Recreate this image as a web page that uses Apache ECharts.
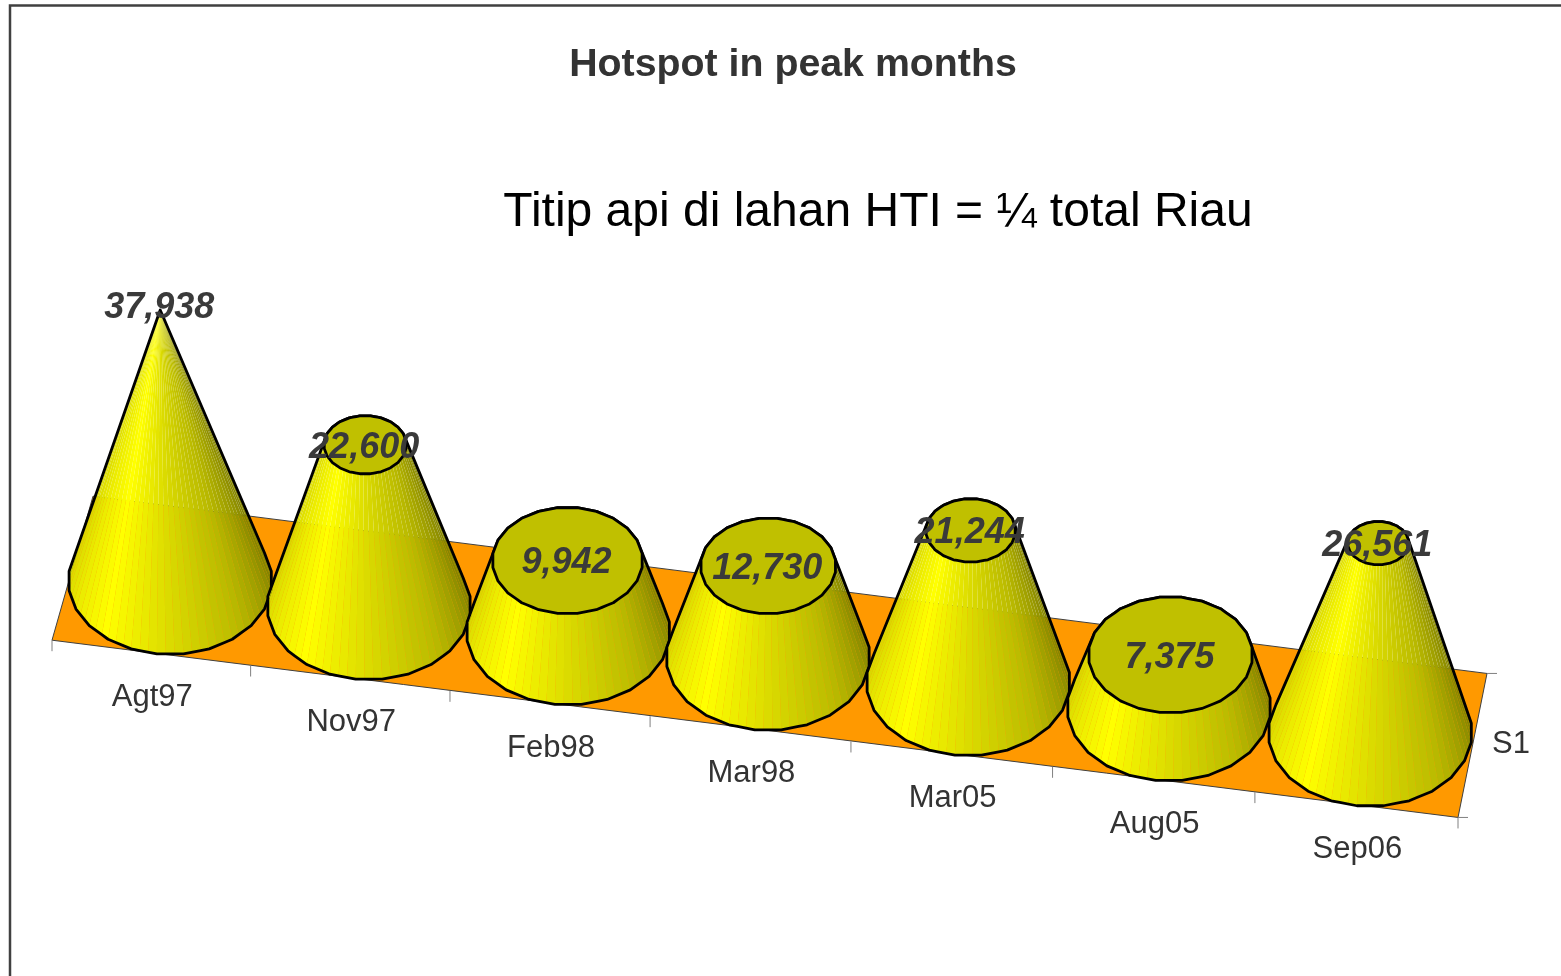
<!DOCTYPE html>
<html>
<head>
<meta charset="utf-8">
<title>Hotspot in peak months</title>
<style>
  html, body { margin: 0; padding: 0; background: #fff; overflow: hidden; }
  #chart { width: 1561px; height: 976px; }
</style>
<script src="https://cdn.jsdelivr.net/npm/echarts@6/dist/echarts.min.js"></script>
</head>
<body>
<div id="chart"></div>
<script>
const categories = ['Agt97', 'Nov97', 'Feb98', 'Mar98', 'Mar05', 'Aug05', 'Sep06'];
const values = [37938, 22600, 9942, 12730, 21244, 7375, 26561];
const seriesNames = ['S1'];
const titleText = 'Hotspot in peak months';
const noteText = 'Titip api di lahan HTI = \u00BC total Riau';

const FONT = '"Liberation Sans", Arial, sans-serif';
const maxValue = Math.max.apply(null, values);

// the flat category plane is sheared and given some depth to fake the 3D view
const gridLeft = 71;
const gridWidth = 1400;
const gridTop = 282.6;
const gridHeight = 285.6;
const slope = 0.1266;
const halfDepth = 72;
const sides = 24;
const stripsPerSide = 3;

function shear(x) {
  return slope * (x - gridLeft);
}

// perspective squeezes the left half a little
function bend(x) {
  const t = (x - gridLeft) / gridWidth;
  return -12 * t * (1 - t);
}

// where a position on the floor lands, u in category units, d from -1 (front) to 1 (back)
function floorPoint(api, u, d) {
  const p = api.coord([0, 0]);
  const band = api.size([1, 0])[0];
  const x = p[0] + u * band;
  const t = (u + 0.5) / categories.length;
  const front = -19 - 12.3 * t + 18.3 * t * t;
  const back = 22 - 6 * t;
  const off = d < 0 ? front * -d : back * d;
  return [x + off, p[1] + shear(x) - d * halfDepth];
}

// polygon ring, same coarse look as the old 3D cones
function ringPoint(cx, cy, rx, ry, k) {
  const step = (Math.PI * 2) / sides;
  const pos = k / stripsPerSide;
  const n = Math.floor(pos);
  const f = pos - n;
  const a0 = step * n + step / 2;
  const a1 = a0 + step;
  const x = Math.cos(a0) * (1 - f) + Math.cos(a1) * f;
  const y = Math.sin(a0) * (1 - f) + Math.sin(a1) * f;
  return [cx + rx * x, cy + ry * y];
}

function shade(angle) {
  // f goes 0 at the left silhouette to 1 at the right one
  const f = 1 - Math.abs(Math.atan2(Math.sin(angle), Math.cos(angle))) / Math.PI;
  const stops = [[0, 0.85], [0.28, 1], [0.5, 0.86], [0.75, 0.72], [1, 0.52]];
  let b = 0.52;
  for (let i = 0; i < stops.length - 1; i++) {
    if (f >= stops[i][0] && f <= stops[i + 1][0]) {
      const t = (f - stops[i][0]) / (stops[i + 1][0] - stops[i][0]);
      b = stops[i][1] + (stops[i + 1][1] - stops[i][1]) * t;
    }
  }
  const c = Math.round(255 * b);
  return 'rgb(' + c + ',' + c + ',0)';
}

function convexHull(points) {
  const pts = points.slice().sort(function (a, b) {
    return a[0] - b[0] || a[1] - b[1];
  });
  const cross = function (o, a, b) {
    return (a[0] - o[0]) * (b[1] - o[1]) - (a[1] - o[1]) * (b[0] - o[0]);
  };
  const lower = [];
  const upper = [];
  pts.forEach(function (p) {
    while (lower.length > 1 && cross(lower[lower.length - 2], lower[lower.length - 1], p) <= 0) lower.pop();
    lower.push(p);
  });
  pts.reverse().forEach(function (p) {
    while (upper.length > 1 && cross(upper[upper.length - 2], upper[upper.length - 1], p) <= 0) upper.pop();
    upper.push(p);
  });
  return lower.slice(0, -1).concat(upper.slice(0, -1));
}

function area(q) {
  let s = 0;
  for (let i = 0; i < q.length; i++) {
    const a = q[i];
    const b = q[(i + 1) % q.length];
    s += a[0] * b[1] - b[0] * a[1];
  }
  return s;
}

function coneTop(api, index, value) {
  const base = api.coord([index, 0]);
  const peak = api.coord([index, value]);
  const h = base[1] - peak[1];
  const x = base[0] + bend(base[0]) + (base[0] - 730) * h * 0.000066;
  return [x, peak[1] + shear(base[0])];
}

function renderFloor(params, api) {
  const corners = [
    floorPoint(api, -0.5, -1),
    floorPoint(api, 6.5, -1),
    floorPoint(api, 6.5, 1),
    floorPoint(api, -0.5, 1)
  ];
  const children = [{
    type: 'polygon',
    shape: { points: corners },
    style: { fill: '#ff9900', stroke: '#404040', lineWidth: 1 }
  }];
  const tick = function (a, b) {
    children.push({
      type: 'line',
      shape: { x1: a[0], y1: a[1], x2: b[0], y2: b[1] },
      style: { stroke: '#808080', lineWidth: 1 }
    });
  };
  for (let i = 0; i <= categories.length; i++) {
    const p = floorPoint(api, i - 0.5, -1);
    tick(p, [p[0], p[1] + 11]);
  }
  tick(corners[1], [corners[1][0] + 10, corners[1][1]]);
  tick(corners[2], [corners[2][0] + 10, corners[2][1]]);
  return { type: 'group', children: children };
}

function renderCone(params, api) {
  const index = api.value(0);
  const value = api.value(1);
  const band = api.size([1, 0])[0];
  const base = api.coord([index, 0]);
  const cx = base[0] + bend(base[0]);
  const cy = base[1] + shear(base[0]);
  const rx = band * 0.51;
  const ry = band * 0.368;
  const top = coneTop(api, index, value);
  const scale = 1 - value / maxValue;
  const trx = rx * scale;
  const tryy = ry * scale * 0.98;

  const total = sides * stripsPerSide;
  const children = [];
  const basePts = [];
  const topPts = [];
  for (let k = 0; k < total; k++) {
    const b0 = ringPoint(cx, cy, rx, ry, k);
    const b1 = ringPoint(cx, cy, rx, ry, k + 1);
    const t0 = ringPoint(top[0], top[1], trx, tryy, k);
    const t1 = ringPoint(top[0], top[1], trx, tryy, k + 1);
    basePts.push(b0);
    topPts.push(t0);
    const quad = [b0, b1, t1, t0];
    if (area(quad) > 0) {
      const mid = ((k + 0.5) / total) * Math.PI * 2 + Math.PI / sides;
      children.push({
        type: 'polygon',
        shape: { points: quad },
        style: { fill: shade(mid) }
      });
    }
  }
  children.push({
    type: 'polygon',
    shape: { points: convexHull(basePts.concat(topPts)) },
    style: { fill: 'none', stroke: '#000', lineWidth: 2.8, lineJoin: 'round' }
  });
  if (scale > 0) {
    children.push({
      type: 'polygon',
      shape: { points: topPts },
      style: { fill: '#c0c000', stroke: '#000', lineWidth: 2.8, lineJoin: 'round' }
    });
  }
  return { type: 'group', children: children };
}

function renderValueLabel(params, api) {
  const index = api.value(0);
  const value = api.value(1);
  const top = coneTop(api, index, value);
  return {
    type: 'text',
    x: top[0] - 1,
    y: top[1] + (value < maxValue ? 3 : -2),
    style: {
      text: values[index].toLocaleString('en-US'),
      fill: '#3a3a3a',
      font: 'italic bold 36px ' + FONT,
      align: 'center',
      verticalAlign: 'middle',
      textAlign: 'center',
      textVerticalAlign: 'middle'
    }
  };
}

function renderCategoryLabel(params, api) {
  const index = api.value(0);
  const p = floorPoint(api, index, -1);
  return {
    type: 'text',
    x: p[0] + 1,
    y: p[1] + 44.5,
    style: {
      text: categories[index],
      fill: '#333',
      font: '31px ' + FONT,
      align: 'center',
      verticalAlign: 'middle',
      textAlign: 'center',
      textVerticalAlign: 'middle'
    }
  };
}

function renderDepthLabel(params, api) {
  const p = floorPoint(api, 6.5, 0);
  return {
    type: 'text',
    x: p[0] + 21,
    y: p[1] - 1,
    style: {
      text: seriesNames[0],
      fill: '#333',
      font: '31px ' + FONT,
      align: 'left',
      verticalAlign: 'middle',
      textAlign: 'left',
      textVerticalAlign: 'middle'
    }
  };
}

const points = values.map(function (v, i) { return [i, v]; });

const chart = echarts.init(document.getElementById('chart'));
chart.setOption({
  animation: false,
  backgroundColor: '#fff',
  title: [
    {
      text: titleText,
      left: 788,
      top: 60,
      textAlign: 'center',
      textVerticalAlign: 'middle',
      textStyle: { fontFamily: FONT, fontSize: 39.3, fontWeight: 'bold', color: '#333' }
    },
    {
      text: noteText,
      left: 873,
      top: 208,
      textAlign: 'center',
      textVerticalAlign: 'middle',
      textStyle: { fontFamily: FONT, fontSize: 48, fontWeight: 'normal', color: '#000' }
    }
  ],
  graphic: [{
    type: 'rect',
    silent: true,
    shape: { x: 10, y: 5.5, width: 1600, height: 1000 },
    style: { fill: 'none', stroke: '#404040', lineWidth: 2.5 }
  }],
  grid: { left: gridLeft, top: gridTop, width: gridWidth, height: gridHeight },
  xAxis: { type: 'category', data: categories, show: false },
  yAxis: { type: 'value', min: 0, max: 40000, show: false },
  series: [
    { type: 'custom', silent: true, z: 1, renderItem: renderFloor, data: [points[0]], clip: false },
    { type: 'custom', silent: true, z: 2, renderItem: renderCone, data: points, clip: false },
    { type: 'custom', silent: true, z: 3, renderItem: renderCategoryLabel, data: points, clip: false },
    { type: 'custom', silent: true, z: 3, renderItem: renderDepthLabel, data: [points[0]], clip: false },
    { type: 'custom', silent: true, z: 4, renderItem: renderValueLabel, data: points, clip: false }
  ]
});
</script>
</body>
</html>
